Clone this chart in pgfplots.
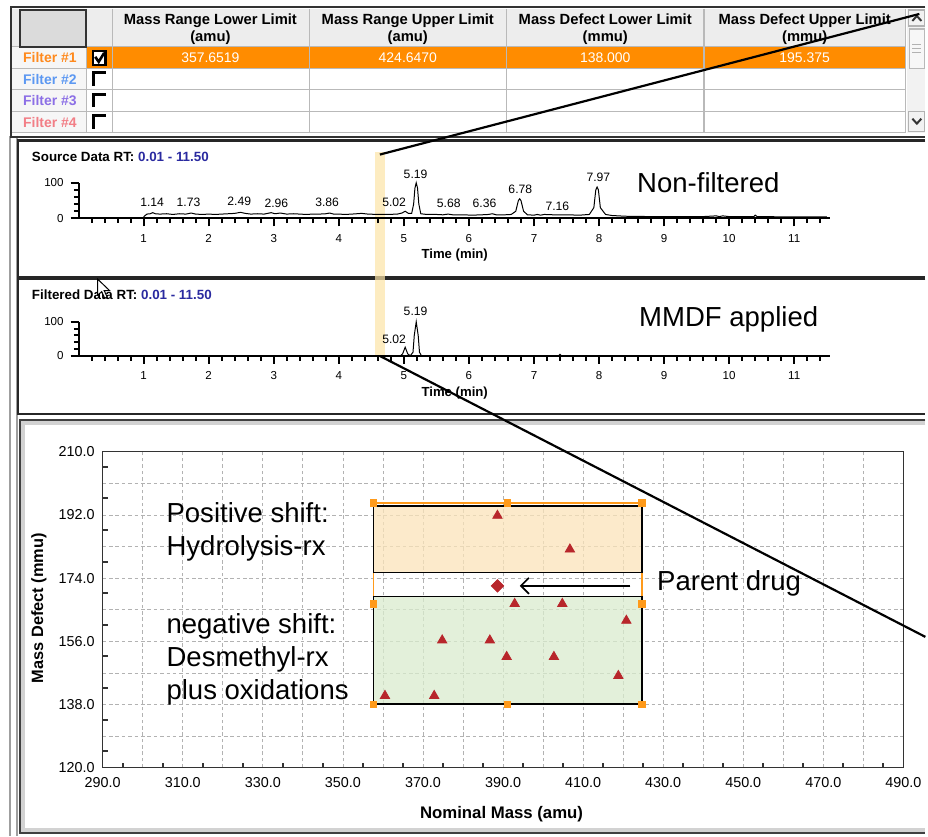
\documentclass[border=0pt]{standalone}
\usepackage{fontspec}
\setmainfont{Liberation Sans}
\usepackage{pgfplots}
\pgfplotsset{compat=1.18}
\usetikzlibrary{arrows.meta}

\definecolor{selorange}{HTML}{FF8C00}
\definecolor{handle}{HTML}{FF9A1A}
\definecolor{orfill}{HTML}{FBE4BA}
\definecolor{grfill}{HTML}{DAECCE}
\definecolor{trired}{HTML}{B8262B}
\definecolor{rtblue}{HTML}{2A2AA0}
\definecolor{band}{HTML}{FDE4A8}
\definecolor{f1}{HTML}{FF8A1E}
\definecolor{f2}{HTML}{5C98F2}
\definecolor{f3}{HTML}{8C6FE6}
\definecolor{f4}{HTML}{F27E86}

\newcommand{\bigf}{\fontsize{13.8}{16.5}\selectfont}
\newcommand{\hdf}{\fontsize{7.4}{8.5}\selectfont\bfseries}
\newcommand{\ttl}{\fontsize{6.7}{7}\selectfont\bfseries}
\newcommand{\pk}{\fontsize{6.1}{7}\selectfont}

% chromatogram axis style
\pgfplotsset{chrom/.style={
    scale only axis, width=376.8pt,
    xmin=0, xmax=11.55, ymin=0, ymax=100,
    axis x line*=bottom, axis y line*=left,
    axis line style={-, line width=1pt},
    xtick={1,...,11}, minor x tick num=4,
    ytick={0,100}, minor y tick num=4,
    tick align=outside, tickwidth=4pt, subtickwidth=2.4pt,
    xtick style={draw=black, line width=1pt},
    ytick style={draw=black, line width=1pt},
    minor tick style={draw=black, line width=1pt},
    ticklabel style={font=\fontsize{5.8}{6}\selectfont},
    xticklabel style={yshift=-0.5pt},
    /pgf/number format/assume math mode=true,
    clip=false}}

\begin{document}
\begin{tikzpicture}
\begin{scope}[x=0.5pt,y=-0.5pt]
\fill[white] (0,0) rectangle (928,838);
% window frame
\draw[gray!75, line width=0.9] (10,136) -- (10,838);
\draw[gray!75, line width=0.9] (17,136) -- (17,838);

% ---- filter table ----
\fill[gray!14] (12,9) rectangle (908,47);
\fill[gray!7] (12,47) rectangle (87,133);
\fill[selorange] (87,47) rectangle (908,69);
\foreach \xx in {87,113,310,508,706,908} \draw[gray!55, line width=0.6] (\xx,9) -- (\xx,133);
\foreach \yy in {47,69,90,112,133} \draw[gray!55, line width=0.6] (12,\yy) -- (908,\yy);
\fill[gray!28] (20,10) rectangle (86,47);
\draw[black!80, line width=1.1] (20,10) rectangle (86,47);
\draw[black!80, line width=1.1] (928,7) -- (11,7) -- (11,137) -- (928,137);
\node[font=\hdf, align=center] at (211,29) {Mass Range Lower Limit\\(amu)};
\node[font=\hdf, align=center] at (409,29) {Mass Range Upper Limit\\(amu)};
\node[font=\hdf, align=center] at (607,29) {Mass Defect Lower Limit\\(mmu)};
\node[font=\hdf, align=center] at (807,29) {Mass Defect Upper Limit\\(mmu)};
\node[font=\fontsize{7}{8}\selectfont, text=white] at (211,58) {357.6519};
\node[font=\fontsize{7}{8}\selectfont, text=white] at (409,58) {424.6470};
\node[font=\fontsize{7}{8}\selectfont, text=white] at (607,58) {138.000};
\node[font=\fontsize{7}{8}\selectfont, text=white] at (807,58) {195.375};
\node[font=\fontsize{7}{8}\selectfont\bfseries, text=f1] at (50,58) {Filter \#1};
\node[font=\fontsize{7}{8}\selectfont\bfseries, text=f2] at (50,79.5) {Filter \#2};
\node[font=\fontsize{7}{8}\selectfont\bfseries, text=f3] at (50,101) {Filter \#3};
\node[font=\fontsize{7}{8}\selectfont\bfseries, text=f4] at (50,122.5) {Filter \#4};
% checkboxes
\filldraw[fill=white, draw=black, line width=1.2] (93,51) rectangle (106,65);
\draw[black, line width=1.3] (95.5,57) -- (99,62) -- (104.5,53);
\foreach \yy in {73,94.5,116} \draw[black, line width=1.4] (94,\yy+13) -- (94,\yy) -- (106,\yy);
% scrollbar
\fill[gray!10] (910,9) rectangle (928,133);
\draw[gray!60, line width=0.6] (911,10) rectangle (927,26);
\draw[black!80, line width=1] (915,21) -- (919.5,16) -- (924,21);
\filldraw[fill=gray!6, draw=gray!55, line width=0.6] (912,29) rectangle (927,69);
\foreach \yy in {45,49,53} \draw[gray!60, line width=0.5] (915,\yy) -- (924,\yy);
\draw[gray!60, line width=0.6] (911,112) rectangle (927,132);
\draw[black!80, line width=1] (915,119) -- (919.5,124) -- (924,119);

% ---- panels ----
\draw[black!85, line width=1.2] (928,141) -- (18,141) -- (18,278) -- (928,278);
\draw[black!85, line width=1.2] (928,280) -- (18,280) -- (18,415) -- (928,415);
\draw[black!75, line width=1] (928,421) -- (20,421) -- (20,835) -- (928,835);
\draw[gray!35, line width=2] (928,424) -- (23,424) -- (23,832) -- (928,832);

% highlight band
\fill[band, opacity=0.7] (376,152) rectangle (386,357);

% tick marks of both chromatograms (0.2 min steps)
\foreach \yb in {219,356.7} {
  \foreach \i in {1,...,57} \draw[black, line width=1] (78.8+13.05*\i,\yb) -- ++(0,5);
  \foreach \i in {1,...,11} \draw[black, line width=1] (78.8+65.25*\i,\yb) -- ++(0,8);
}
\foreach \i in {0,...,5} \draw[black, line width=1] (78.8,219-7.14*\i) -- ++(-5,0);
\foreach \i in {0,...,5} \draw[black, line width=1] (78.8,356.7-6.8*\i) -- ++(-5,0);
\draw[black, line width=1] (78.8,219) -- ++(-8,0) (78.8,183.3) -- ++(-8,0);
\draw[black, line width=1] (78.8,356.7) -- ++(-8,0) (78.8,322.7) -- ++(-8,0);

% panel titles
\node[anchor=west, font=\ttl] at (25,157) {Source Data RT: \textcolor{rtblue}{0.01 - 11.50}};
\node[anchor=west, font=\ttl] at (25,296) {Filtered Data RT: \textcolor{rtblue}{0.01 - 11.50}};
\node[font=\fontsize{6.6}{7}\selectfont\bfseries] at (456,256) {Time (min)};
\node[font=\fontsize{6.6}{7}\selectfont\bfseries] at (456,394) {Time (min)};
\node[anchor=west, font=\bigf] at (632,183) {Non-filtered};
\node[anchor=west, font=\bigf] at (634,320) {MMDF applied};

% minor ticks of the mass defect plot
\foreach \i in {0,...,19} \draw[black!80, line width=1] (123.1+40.15*\i,770) -- ++(0,-5);
\foreach \i in {0,...,9} \draw[black!80, line width=1] (103,753.4-31.7*\i) -- ++(5,0);
\end{scope}

% ---- chromatogram: source data ----
\begin{axis}[chrom, height=17.85pt, at={(39.4pt,-109.5pt)}, anchor=south west]
\addplot[black, line width=0.5pt] coordinates {
 (0,0) (0.99,0) (1.01,6) (1.05,12) (1.10,13) (1.14,16) (1.18,13) (1.25,12)
 (1.35,13) (1.45,11) (1.55,13) (1.65,12) (1.73,15) (1.80,12) (1.90,11)
 (2.0,12) (2.1,11) (2.2,12) (2.3,13) (2.4,14) (2.49,17) (2.56,14) (2.65,12)
 (2.75,13) (2.85,12) (2.96,16) (3.02,13) (3.1,15) (3.2,12) (3.3,13) (3.4,12)
 (3.5,11) (3.6,12) (3.7,12) (3.8,13) (3.86,15) (3.92,12) (4.0,12) (4.1,11)
 (4.2,12) (4.35,14) (4.45,12) (4.6,11) (4.75,11) (4.9,12) (4.97,15)
 (5.02,20) (5.07,14) (5.12,14) (5.15,40) (5.17,85) (5.19,100) (5.21,85)
 (5.23,40) (5.26,13) (5.35,11) (5.5,11) (5.6,10) (5.68,12) (5.75,10)
 (5.9,10) (6.05,9) (6.2,10) (6.3,11) (6.36,13) (6.42,10) (6.55,10)
 (6.65,11) (6.72,20) (6.76,50) (6.78,55) (6.80,50) (6.84,20) (6.9,10)
 (7.0,9) (7.05,11) (7.1,9) (7.16,11) (7.3,10) (7.5,10) (7.7,9) (7.85,11)
 (7.92,30) (7.95,80) (7.97,88) (7.99,80) (8.02,30) (8.1,11) (8.2,8)
 (8.4,6) (8.8,5) (9.2,5) (9.6,5) (9.8,7) (9.85,5) (9.9,7) (10.0,5)
 (10.38,5) (10.4,9) (10.43,5) (11.0,4) (11.5,4)
};
\node[font=\pk] at (axis cs:1.13,45) {1.14};
\node[font=\pk] at (axis cs:1.69,45) {1.73};
\node[font=\pk] at (axis cs:2.47,49) {2.49};
\node[font=\pk] at (axis cs:3.04,43) {2.96};
\node[font=\pk] at (axis cs:3.82,45) {3.86};
\node[font=\pk] at (axis cs:4.85,45) {5.02};
\node[font=\pk] at (axis cs:5.18,125) {5.19};
\node[font=\pk] at (axis cs:5.69,42) {5.68};
\node[font=\pk] at (axis cs:6.24,42) {6.36};
\node[font=\pk] at (axis cs:6.79,83) {6.78};
\node[font=\pk] at (axis cs:7.36,35) {7.16};
\node[font=\pk] at (axis cs:7.99,114) {7.97};
\end{axis}

% ---- chromatogram: filtered data ----
\begin{axis}[chrom, height=17pt, at={(39.4pt,-178.35pt)}, anchor=south west]
\addplot[black, line width=0.5pt] coordinates {
 (0,0) (4.95,0) (4.98,5) (5.02,25) (5.06,5) (5.1,0) (5.14,10) (5.16,60)
 (5.19,100) (5.22,60) (5.24,10) (5.27,0) (7.38,0) (7.4,4) (7.42,0) (11.5,0)
};
\node[font=\pk] at (axis cs:4.85,49) {5.02};
\node[font=\pk] at (axis cs:5.18,130) {5.19};
\end{axis}

% ---- mass defect plot ----
\begin{axis}[scale only axis, width=401.5pt, height=158.5pt,
    at={(51.5pt,-385pt)}, anchor=south west,
    xmin=290, xmax=490, ymin=120, ymax=210,
    xtick={290,300,...,490},
    xticklabels={290.0,,310.0,,330.0,,350.0,,370.0,,390.0,,410.0,,430.0,,450.0,,470.0,,490.0},
    ytick={120,129,...,210},
    yticklabels={120.0,,138.0,,156.0,,174.0,,192.0,,210.0},
    tick pos=left, tick align=inside,
    tickwidth=0pt,
    grid=major,
    major grid style={gray!60, line width=0.4pt, dash pattern=on 1.8pt off 1.4pt},
    axis line style={black!80, line width=0.7pt},
    ticklabel style={font=\fontsize{7.2}{8}\selectfont},
    xticklabel style={yshift=-1.5pt}, yticklabel style={xshift=-0.5pt},
]
\draw[handle, line width=0.8pt] (axis cs:357.65,138) rectangle (axis cs:424.65,195.375);
\fill[orfill, opacity=0.75] (axis cs:357.65,175.6) rectangle (axis cs:424.65,194.5);
\draw[black, line width=0.8pt] (axis cs:357.65,175.6) rectangle (axis cs:424.65,194.5);
\fill[grfill, opacity=0.75] (axis cs:357.65,138.1) rectangle (axis cs:424.65,168.8);
\draw[black, line width=0.8pt] (axis cs:357.65,138.1) rectangle (axis cs:424.65,168.8);
\addplot[only marks, mark=square*, mark size=1.6pt, color=handle] coordinates {
 (357.65,195.375) (391.15,195.375) (424.65,195.375) (357.65,166.7)
 (424.65,166.7) (357.65,138) (391.15,138) (424.65,138)
};
\addplot[only marks, mark=triangle*, mark size=2.7pt, color=trired] coordinates {
 (388.6,191.8) (406.7,182.2) (392.9,166.7) (404.8,166.7) (420.8,161.9)
 (374.8,156.3) (386.7,156.3) (390.9,151.6) (402.7,151.6) (418.8,146.2)
 (360.5,140.5) (372.8,140.5)
};
\addplot[only marks, mark=square*, mark size=2.2pt, mark options={rotate=45}, color=trired] coordinates {(388.6,171.8)};
\draw[-{Straight Barb[length=4pt,width=8pt]}, line width=0.8pt] (axis cs:421.8,171.8) -- (axis cs:394.2,171.8);
\end{axis}

\begin{scope}[x=0.5pt,y=-0.5pt]
\node[rotate=90, font=\fontsize{8.2}{9}\selectfont\bfseries] at (39,610) {Mass Defect (mmu)};
\node[font=\fontsize{8.4}{9}\selectfont\bfseries] at (503,817) {Nominal Mass (amu)};
\node[anchor=west, font=\bigf, align=left] at (160,533) {Positive shift:\\Hydrolysis-rx};
\node[anchor=west, font=\bigf, align=left] at (160,661) {negative shift:\\Desmethyl-rx\\plus oxidations};
\node[anchor=west, font=\bigf] at (652,585) {Parent drug};
% mouse pointer
\filldraw[fill=white, draw=black, line width=0.5] (98,280) -- (98,296) -- (102,292.5) -- (105,299) -- (107.5,298) -- (104.5,291.5) -- (110,291.5) -- cycle;
% zoom connector lines
\draw[black, line width=1.1] (381,155) -- (922,14);
\draw[black, line width=1.1] (381,357) -- (928,638.7);
\end{scope}
\end{tikzpicture}
\end{document}
